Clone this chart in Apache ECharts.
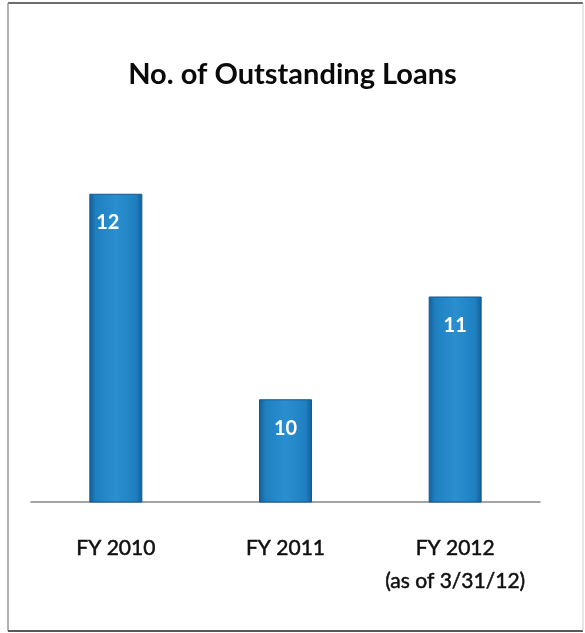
<!DOCTYPE html>
<html>
<head>
<meta charset="utf-8">
<title>No. of Outstanding Loans</title>
<script src="https://cdn.jsdelivr.net/npm/echarts@6/dist/echarts.min.js"></script>
<style>
  html, body { margin: 0; padding: 0; background: #ffffff; }
  #chart { width: 585px; height: 633px; }
</style>
</head>
<body>
<div id="chart"></div>
<script>
// Loans outstanding at fiscal-year end
const categories = ['FY 2010', 'FY 2011', 'FY 2012\n(as of 3/31/12)'];
const loanCounts = [12, 10, 11];

const FONT = 'Lato, "Open Sans", sans-serif';

const barFill = new echarts.graphic.LinearGradient(0, 0, 1, 0, [
  { offset: 0, color: '#135d96' },
  { offset: 0.12, color: '#1f80c1' },
  { offset: 0.5, color: '#2a8fcf' },
  { offset: 0.88, color: '#1f80c1' },
  { offset: 1, color: '#135d96' }
]);

// first value label sits a little left of its bar's centre
const barData = loanCounts.map((v, i) =>
  i === 0 ? { value: v, label: { offset: [-8, 0] } } : v
);

const chart = echarts.init(document.getElementById('chart'), null, { renderer: 'canvas' });

chart.setOption({
  backgroundColor: '#ffffff',
  animation: false,
  title: {
    text: 'No. of Outstanding Loans',
    left: 'center',
    top: 55,
    textStyle: { fontFamily: FONT, fontSize: 29, fontWeight: 'bold', color: '#0a0a0a' }
  },
  grid: { left: 31, right: 45, top: 91, bottom: 131 },
  xAxis: {
    type: 'category',
    data: categories,
    axisLine: { show: true, lineStyle: { color: '#858585', width: 1.5 } },
    axisTick: { show: false },
    axisLabel: {
      margin: 30,
      fontFamily: FONT,
      fontSize: 21,
      lineHeight: 33,
      color: '#0f0f0f',
      textBorderColor: '#0f0f0f',
      textBorderWidth: 0.5,
      interval: 0
    }
  },
  yAxis: {
    type: 'value',
    min: 9,
    max: 13,
    interval: 1,
    show: false,
    splitLine: { show: false }
  },
  series: [{
    type: 'bar',
    data: barData,
    barWidth: 53,
    itemStyle: {
      color: barFill,
      borderColor: '#135a90',
      borderWidth: 1
    },
    label: {
      show: true,
      position: 'insideTop',
      distance: 19,
      fontFamily: FONT,
      fontSize: 20,
      fontWeight: 'bold',
      color: '#ffffff'
    }
  }],
  graphic: [
    { type: 'line', shape: { x1: 8, y1: 3, x2: 583, y2: 3 }, style: { stroke: '#6e6e6e', lineWidth: 2 } },
    { type: 'line', shape: { x1: 8, y1: 3, x2: 8, y2: 631 }, style: { stroke: '#9a9a9a', lineWidth: 1.5 } },
    { type: 'line', shape: { x1: 8, y1: 631, x2: 583, y2: 631 }, style: { stroke: '#5a5a5a', lineWidth: 2 } },
    { type: 'line', shape: { x1: 583, y1: 3, x2: 583, y2: 631 }, style: { stroke: '#cfcfcf', lineWidth: 1 } }
  ]
});
</script>
</body>
</html>
